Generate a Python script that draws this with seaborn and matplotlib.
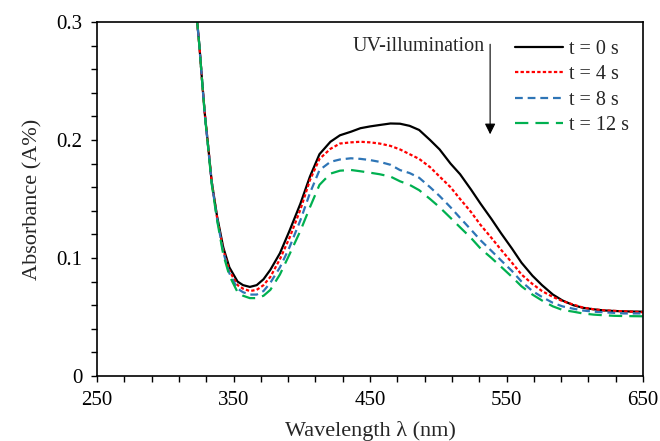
import numpy as np
import pandas as pd
import matplotlib
matplotlib.use("Agg")
import matplotlib.pyplot as plt
import seaborn as sns

wavelength = [323, 325, 327, 329, 331.5, 334, 338, 342.5, 347, 353, 357, 362, 367, 372, 377,
              384, 391, 399, 406, 413, 421, 428, 436, 443, 450, 457, 465, 472, 479, 486,
              494, 501, 509, 516, 524, 531, 539, 546, 554, 561, 569, 576, 584, 591, 599,
              606, 614, 621, 629, 636, 643, 650]

a_t0 = [0.305, 0.28, 0.25, 0.222, 0.194, 0.165, 0.135, 0.109, 0.092, 0.080, 0.077, 0.0755, 0.077, 0.082, 0.090,
        0.104, 0.123, 0.146, 0.169, 0.188, 0.1985, 0.204, 0.207, 0.210, 0.2115, 0.2127, 0.214, 0.2138, 0.212, 0.2085,
        0.200, 0.192, 0.180, 0.171, 0.158, 0.146, 0.133, 0.121, 0.108, 0.096, 0.085, 0.077, 0.069, 0.064, 0.060,
        0.0578, 0.0565, 0.0556, 0.0551, 0.0548, 0.0546, 0.0545]
a_t4 = [0.305, 0.28, 0.25, 0.222, 0.194, 0.165, 0.134, 0.107, 0.089, 0.077, 0.074, 0.072, 0.073, 0.077, 0.084,
        0.099, 0.117, 0.141, 0.166, 0.184, 0.1925, 0.197, 0.198, 0.1985, 0.198, 0.197, 0.195, 0.192, 0.188, 0.184,
        0.177, 0.169, 0.160, 0.150, 0.139, 0.128, 0.117, 0.107, 0.096, 0.086, 0.078, 0.072, 0.067, 0.0635, 0.0605,
        0.058, 0.0565, 0.0557, 0.0552, 0.0548, 0.0545, 0.054]
a_t8 = [0.305, 0.28, 0.25, 0.221, 0.193, 0.164, 0.133, 0.105, 0.087, 0.074, 0.071, 0.069, 0.069, 0.072, 0.079,
        0.092, 0.109, 0.132, 0.155, 0.1745, 0.1815, 0.1835, 0.1845, 0.184, 0.183, 0.1815, 0.179, 0.1745, 0.172, 0.168,
        0.160, 0.1525, 0.143, 0.134, 0.124, 0.115, 0.106, 0.098, 0.089, 0.080, 0.072, 0.067, 0.062, 0.059, 0.057,
        0.0555, 0.0545, 0.054, 0.0535, 0.053, 0.053, 0.053]
a_t12 = [0.305, 0.28, 0.25, 0.221, 0.193, 0.163, 0.132, 0.103, 0.085, 0.071, 0.068, 0.066, 0.066, 0.068, 0.073,
         0.086, 0.103, 0.123, 0.143, 0.162, 0.1715, 0.174, 0.1746, 0.1735, 0.1723, 0.171, 0.169, 0.165, 0.162, 0.1575,
         0.150, 0.143, 0.134, 0.126, 0.117, 0.108, 0.100, 0.0926, 0.084, 0.076, 0.069, 0.064, 0.059, 0.056, 0.0545,
         0.053, 0.052, 0.0515, 0.051, 0.0508, 0.0507, 0.0506]

labels = ["t = 0 s", "t = 4 s", "t = 8 s", "t = 12 s"]
colors = ["#000000", "#FF0000", "#2E75B6", "#00B050"]
x_ticklabels = ["250", "350", "450", "550", "650"]
y_ticklabels = ["0", "0.1", "0.2", "0.3"]

rows = []
for lab, vals in zip(labels, [a_t0, a_t4, a_t8, a_t12]):
    for w, v in zip(wavelength, vals):
        rows.append({"Wavelength": w, "Absorbance": v, "series": lab})
df = pd.DataFrame(rows)

sns.set_style("ticks")
plt.rcParams["font.family"] = ["Liberation Serif", "DejaVu Serif"]

fig = plt.figure(figsize=(6.6, 4.41), dpi=100)
ax = fig.add_axes([97/660, 65/441, 546/660, 354/441])

dashes = {labels[0]: "", labels[1]: (1.5, 1.0), labels[2]: (3.5, 2.2), labels[3]: (6.0, 3.2)}
sns.lineplot(data=df, x="Wavelength", y="Absorbance", hue="series", style="series",
             palette=dict(zip(labels, colors)), dashes=dashes, linewidth=1.6,
             ax=ax, sort=False, estimator=None)

ax.set_xlim(250, 650)
ax.set_ylim(0, 0.3)
ax.set_xticks([float(t) for t in x_ticklabels])
ax.set_xticklabels(x_ticklabels)
ax.set_xticks(np.arange(250, 651, 20), minor=True)
ax.set_yticks([float(t) for t in y_ticklabels])
ax.set_yticklabels(y_ticklabels)
ax.set_yticks(np.arange(0, 0.301, 0.02), minor=True)
ax.tick_params(which="both", direction="out", length=4.5, width=1, colors="black",
               labelsize=15, pad=6)
for s in ax.spines.values():
    s.set_visible(True)
    s.set_color("black")
    s.set_linewidth(1.2)

ax.set_xlabel("Wavelength λ (nm)", fontsize=16, labelpad=8)
ax.set_ylabel("Absorbance (A%)", fontsize=16, labelpad=10)

ax.annotate("", xy=(538, 0.2025), xytext=(538, 0.2835),
            arrowprops=dict(arrowstyle="-|>", color="black", lw=0.8, mutation_scale=16))
ax.text(534, 0.279, "UV-illumination", fontsize=14.5, ha="right", va="center")

leg = ax.legend(loc="upper right", bbox_to_anchor=(1.0, 0.99), frameon=False, fontsize=14.5,
                handlelength=2.4, handletextpad=0.3, labelspacing=0.32, borderaxespad=0.3)
for line in leg.get_lines():
    line.set_linewidth(1.6)

fig.savefig("out.png", dpi=100)
